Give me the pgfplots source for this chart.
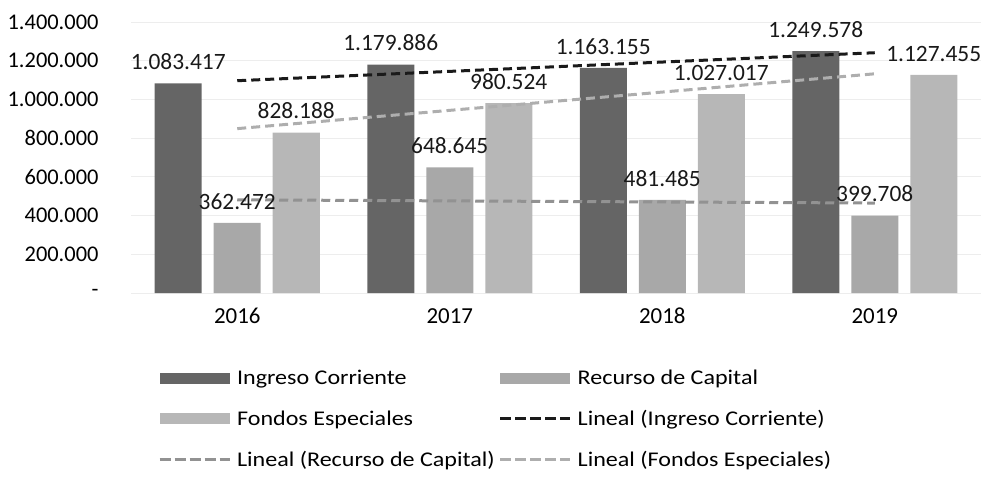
\documentclass[border=0pt]{standalone}
\usepackage{fontspec}
\setmainfont{Carlito}
\newfontfamily\legfont[FakeStretch=1.15]{Carlito}
\usepackage{pgfplots}
\pgfplotsset{compat=1.18}
\definecolor{cIng}{HTML}{656565}
\definecolor{cRec}{HTML}{A8A8A8}
\definecolor{cFon}{HTML}{B7B7B7}
\definecolor{tIng}{HTML}{1A1A1A}
\definecolor{tRec}{HTML}{929292}
\definecolor{tFon}{HTML}{AEAEAE}
\tikzset{trendstyle/.style={line width=3bp, dash pattern=on 9bp off 5bp}}
\begin{document}
\begin{tikzpicture}
\useasboundingbox (-131bp,-186bp) rectangle (857bp,293bp);
\begin{axis}[
  scale only axis, width=850bp, height=271bp,
  xmin=0.5, xmax=4.5, ymin=0, ymax=1400000,
  xtick={1,2,3,4}, xticklabels={2016,2017,2018,2019},
  ytick={0,200000,400000,600000,800000,1000000,1200000,1400000},
  yticklabels={-,200.000,400.000,600.000,800.000,1.000.000,1.200.000,1.400.000},
  scaled ticks=false,
  major tick length=0pt,
  axis line style={draw=none},
  ymajorgrids, grid style={black!7, line width=0.8bp},
  tick label style={font=\fontsize{22.5}{26}\selectfont, black},
  yticklabel style={xshift=-29bp},
  xticklabel style={font=\fontsize{23}{26}\selectfont, yshift=-19bp, text height=1.6ex, text depth=0pt},
  nodes near coords style={font=\fontsize{23.5}{26}\selectfont, text=black!90, anchor=south, yshift=10bp},
  legend columns=2,
  legend cell align=left,
  legend style={draw=none, fill=none, at={(0.429,-0.269)}, anchor=north,
    font=\legfont\fontsize{21}{24}\selectfont, row sep=20bp,
    /tikz/every odd column/.append style={column sep=4bp},
    /tikz/every even column/.append style={column sep=2bp}},
]
\addplot[ybar, bar width=47bp, bar shift=-59bp, fill=cIng, draw=none,
  point meta=explicit symbolic, nodes near coords,
  every node near coord/.append style={xshift=-59bp},
  legend image code/.code={\fill[cIng] (0bp,-5.5bp) rectangle (70bp,5.5bp);}]
  coordinates {(1,1083417)[1.083.417] (2,1179886)[1.179.886] (3,1163155)[1.163.155] (4,1249578)[1.249.578]};
\addlegendentry{Ingreso Corriente}
\addplot[ybar, bar width=47bp, bar shift=0bp, fill=cRec, draw=none,
  point meta=explicit symbolic, nodes near coords,
  legend image code/.code={\fill[cRec] (0bp,-5.5bp) rectangle (70bp,5.5bp);}]
  coordinates {(1,362472)[362.472] (2,648645)[648.645] (3,481485)[481.485] (4,399708)[399.708]};
\addlegendentry{Recurso de Capital}
\addplot[ybar, bar width=47bp, bar shift=59bp, fill=cFon, draw=none,
  point meta=explicit symbolic, nodes near coords,
  every node near coord/.append style={xshift=59bp},
  legend image code/.code={\fill[cFon] (0bp,-5.5bp) rectangle (70bp,5.5bp);}]
  coordinates {(1,828188)[828.188] (2,980524)[980.524] (3,1027017)[1.027.017] (4,1127455)[1.127.455]};
\addlegendentry{Fondos Especiales}
\addplot[tIng, trendstyle, mark=none,
  legend image code/.code={\draw[tIng, trendstyle, dash pattern=on 11bp off 4bp] (0bp,0) -- (70bp,0);}]
  coordinates {(1,1096746) (4,1241272)};
\addlegendentry{Lineal (Ingreso Corriente)}
\addplot[tRec, trendstyle, mark=none,
  legend image code/.code={\draw[tRec, trendstyle, dash pattern=on 11bp off 4bp] (0bp,0) -- (70bp,0);}]
  coordinates {(1,481395) (4,464760)};
\addlegendentry{Lineal (Recurso de Capital)}
\addplot[tFon, trendstyle, mark=none,
  legend image code/.code={\draw[tFon, trendstyle, dash pattern=on 11bp off 4bp] (0bp,0) -- (70bp,0);}]
  coordinates {(1,849152) (4,1132440)};
\addlegendentry{Lineal (Fondos Especiales)}
\end{axis}
\end{tikzpicture}
\end{document}
